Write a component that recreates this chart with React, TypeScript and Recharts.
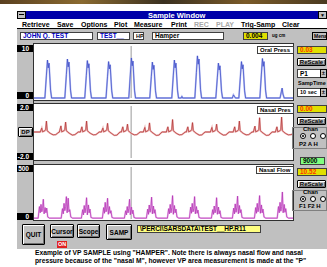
import React from 'react';
import { LineChart, Line, XAxis, YAxis, ReferenceLine } from 'recharts';

// time in seconds across the 10 sec window, values per channel
const oralPress: [number, number][] = [
  [0, 0], [0.42, 0], [0.48, 4.4], [0.52, 7.3], [0.55, 5.8], [0.58, 6.7], [0.64, 1.5], [0.68, 0],
  [1.19, 0], [1.25, 4.5], [1.29, 7.5], [1.32, 6.0], [1.35, 6.9], [1.41, 1.5], [1.45, 0],
  [1.96, 0], [2.02, 4.3], [2.06, 7.2], [2.09, 5.8], [2.12, 6.6], [2.18, 1.4], [2.22, 0],
  [2.78, 0], [2.84, 4.2], [2.88, 7.0], [2.91, 5.6], [2.94, 6.4], [3.0, 1.4], [3.04, 0],
  [3.66, 0], [3.72, 4.6], [3.76, 7.7], [3.79, 6.2], [3.82, 7.1], [3.88, 1.5], [3.92, 0],
  [4.47, 0], [4.53, 4.1], [4.57, 6.9], [4.6, 5.5], [4.63, 6.3], [4.69, 1.4], [4.73, 0],
  [5.32, 0], [5.38, 4.4], [5.42, 7.3], [5.45, 5.8], [5.48, 6.7], [5.54, 1.5], [5.58, 0],
  [5.68, 0], [5.71, 0.3], [5.74, 0],
  [6.21, 0], [6.27, 4.9], [6.31, 8.1], [6.34, 6.5], [6.37, 7.5], [6.43, 1.6], [6.47, 0],
  [7.02, 0], [7.08, 4.0], [7.12, 6.7], [7.15, 5.4], [7.18, 6.2], [7.24, 1.3], [7.28, 0],
  [7.66, 0], [7.7, 0.6], [7.74, 0.3], [7.78, 0],
  [7.91, 0], [7.97, 4.2], [8.01, 7.0], [8.04, 5.6], [8.07, 6.4], [8.13, 1.4], [8.17, 0],
  [8.72, 0], [8.78, 4.6], [8.82, 7.6], [8.85, 6.1], [8.88, 7.0], [8.94, 1.5], [8.98, 0],
  [9.5, 0], [9.55, 1.2], [9.58, 1.9], [9.61, 0.8], [9.66, 0], [10, 0],
];

const nasalPres: [number, number][] = [
  [0, 0], [0.24, 0], [0.3, 0.3], [0.33, 0.02], [0.41, 0.08], [0.45, 0.2], [0.48, 0.84], [0.51, 0.1], [0.56, 0], [0.64, -0.12], [0.74, -0.22], [0.84, -0.2], [0.92, -0.08], [0.97, 0],
  [0.98, 0], [1.04, 0.47], [1.07, 0.02], [1.15, 0.08], [1.19, 0.2], [1.22, 0.76], [1.25, 0.1], [1.3, 0], [1.38, -0.12], [1.48, -0.24], [1.58, -0.2], [1.66, -0.08], [1.71, 0],
  [1.79, 0], [1.85, 0.4], [1.88, 0.02], [1.96, 0.08], [2.0, 0.2], [2.03, 0.84], [2.06, 0.1], [2.11, 0], [2.19, -0.12], [2.29, -0.22], [2.39, -0.2], [2.47, -0.08], [2.52, 0],
  [2.6, 0], [2.66, 0.3], [2.69, 0.02], [2.77, 0.08], [2.81, 0.2], [2.84, 0.67], [2.87, 0.1], [2.92, 0], [3.0, -0.12], [3.1, -0.26], [3.2, -0.24], [3.28, -0.08], [3.33, 0],
  [3.37, 0], [3.43, 0.4], [3.46, 0.02], [3.54, 0.08], [3.58, 0.2], [3.61, 0.6], [3.64, 0.1], [3.69, 0], [3.77, -0.12], [3.87, -0.22], [3.97, -0.2], [4.05, -0.08], [4.1, 0],
  [4.22, 0], [4.28, 0.35], [4.31, 0.02], [4.39, 0.08], [4.43, 0.2], [4.46, 0.7], [4.49, 0.1], [4.54, 0], [4.62, -0.12], [4.72, -0.26], [4.82, -0.24], [4.9, -0.08], [4.95, 0],
  [5.11, 0], [5.17, 0.4], [5.2, 0.02], [5.28, 0.08], [5.32, 0.2], [5.35, 0.96], [5.38, 0.1], [5.43, 0], [5.51, -0.12], [5.61, -0.22], [5.71, -0.2], [5.79, -0.08], [5.84, 0],
  [5.88, 0], [5.94, 0.4], [5.97, 0.02], [6.05, 0.08], [6.09, 0.2], [6.12, 0.72], [6.15, 0.1], [6.2, 0], [6.28, -0.12], [6.38, -0.24], [6.48, -0.22], [6.56, -0.08], [6.61, 0],
  [6.81, 0], [6.87, 0.35], [6.9, 0.02], [6.98, 0.08], [7.02, 0.2], [7.05, 0.6], [7.08, 0.1], [7.13, 0], [7.21, -0.12], [7.31, -0.24], [7.41, -0.22], [7.49, -0.08], [7.54, 0],
  [7.69, 0], [7.75, 0.4], [7.78, 0.02], [7.86, 0.08], [7.9, 0.2], [7.93, 0.84], [7.96, 0.1], [8.01, 0], [8.09, -0.12], [8.19, -0.22], [8.29, -0.2], [8.37, -0.08], [8.42, 0],
  [8.47, 0], [8.53, 0.45], [8.56, 0.02], [8.64, 0.08], [8.68, 0.2], [8.71, 1.1], [8.74, 0.1], [8.79, 0], [8.87, -0.12], [8.97, -0.26], [9.07, -0.24], [9.15, -0.08], [9.2, 0],
  [9.32, 0], [9.38, 0.4], [9.41, 0.02], [9.49, 0.08], [9.53, 0.2], [9.56, 1.15], [9.59, 0.1], [9.64, 0], [9.72, -0.12], [9.82, -0.22], [9.92, -0.2], [10, -0.15],
];

const nasalFlow: [number, number][] = [
  [0, 8],
  [0.16, 8], [0.21, 120], [0.24, 60], [0.27, 140], [0.3, 70], [0.33, 100], [0.36, 190], [0.39, 50], [0.43, 110], [0.46, 60], [0.49, 105], [0.53, 20], [0.6, 8],
  [1.05, 8], [1.1, 100], [1.13, 50], [1.16, 150], [1.19, 80], [1.22, 120], [1.25, 215], [1.28, 60], [1.32, 200], [1.35, 70], [1.38, 90], [1.42, 20], [1.49, 8],
  [1.83, 8], [1.88, 90], [1.91, 40], [1.94, 130], [1.97, 60], [2.0, 110], [2.03, 205], [2.06, 40], [2.1, 135], [2.13, 60], [2.16, 95], [2.2, 15], [2.27, 8],
  [2.64, 8], [2.69, 110], [2.72, 55], [2.75, 160], [2.78, 70], [2.81, 95], [2.84, 200], [2.87, 45], [2.91, 120], [2.94, 55], [2.97, 80], [3.01, 15], [3.08, 8],
  [3.49, 8], [3.54, 80], [3.57, 40], [3.6, 120], [3.63, 60], [3.66, 100], [3.69, 190], [3.72, 40], [3.76, 115], [3.79, 50], [3.82, 85], [3.86, 15], [3.93, 8],
  [4.34, 8], [4.39, 95], [4.42, 45], [4.45, 135], [4.48, 65], [4.51, 105], [4.54, 210], [4.57, 50], [4.61, 125], [4.64, 55], [4.67, 90], [4.71, 15], [4.78, 8],
  [5.15, 8], [5.2, 100], [5.23, 50], [5.26, 140], [5.29, 60], [5.32, 110], [5.35, 225], [5.38, 45], [5.42, 130], [5.45, 60], [5.48, 95], [5.52, 20], [5.59, 8],
  [6.0, 8], [6.05, 115], [6.08, 55], [6.11, 150], [6.14, 70], [6.17, 100], [6.2, 215], [6.23, 50], [6.27, 120], [6.3, 55], [6.33, 85], [6.37, 15], [6.44, 8],
  [6.85, 8], [6.9, 90], [6.93, 45], [6.96, 125], [6.99, 60], [7.02, 95], [7.05, 205], [7.08, 45], [7.12, 115], [7.15, 50], [7.18, 80], [7.22, 15], [7.29, 8],
  [7.66, 8], [7.71, 105], [7.74, 50], [7.77, 145], [7.8, 65], [7.83, 110], [7.86, 220], [7.89, 50], [7.93, 130], [7.96, 60], [7.99, 90], [8.03, 15], [8.1, 8],
  [8.51, 8], [8.56, 110], [8.59, 55], [8.62, 150], [8.65, 70], [8.68, 115], [8.71, 225], [8.74, 55], [8.78, 135], [8.81, 60], [8.84, 95], [8.88, 20], [8.95, 8],
  [9.39, 8], [9.44, 120], [9.47, 60], [9.5, 160], [9.53, 75], [9.56, 120], [9.59, 260], [9.62, 60], [9.66, 140], [9.69, 65], [9.72, 100], [9.76, 20], [9.83, 8],
  [10, 8],
];

const oralTicks = [0, 1, 2, 3, 4, 5, 6, 7, 8, 9, 10];
const presTicks = [-2, -1.6, -1.2, -0.8, -0.4, 0, 0.4, 0.8, 1.2, 1.6, 2];
const flowTicks = [0, 50, 100, 150, 200, 250, 300, 350, 400, 450, 500];
const cursorT = 3.75;

const menuItems = ['Retrieve', 'Save', 'Options', 'Plot', 'Measure', 'Print', 'REC', 'PLAY', 'Trig-Samp', 'Clear'];
const menuX = [22, 57, 81, 114, 134, 171, 194, 216, 241, 282];

const FONT = '"Liberation Sans", Arial, sans-serif';
const GRAY = '#c0c0c0';

function Abs({ x, y, w, h, style, children }: any) {
  return (
    <div style={{ position: 'absolute', left: x, top: y, width: w, height: h, boxSizing: 'border-box', ...style }}>
      {children}
    </div>
  );
}

function Txt({ x, y, children, size = 7, color = '#000', style }: any) {
  return (
    <div style={{ position: 'absolute', left: x, top: y, fontSize: size, lineHeight: 1, fontWeight: 700, color, whiteSpace: 'nowrap', ...style }}>
      {children}
    </div>
  );
}

function Btn({ x, y, w, h, label, size = 6.5 }: any) {
  return (
    <Abs x={x} y={y} w={w} h={h} style={{ background: GRAY, border: '1px solid #000', borderRadius: 1, boxShadow: 'inset 1px 1px #fff, inset -1px -1px #707070', display: 'flex', alignItems: 'center', justifyContent: 'center', fontSize: size, fontWeight: 700 }}>
      {label}
    </Abs>
  );
}

function Field({ x, y, w, h, label, bg = '#fff', color = '#0000c0', size = 6.5 }: any) {
  return (
    <Abs x={x} y={y} w={w} h={h} style={{ background: bg, border: '1px solid #404040', fontSize: size, fontWeight: 700, color, paddingLeft: 2, lineHeight: `${h - 2}px`, whiteSpace: 'nowrap', overflow: 'hidden' }}>
      {label}
    </Abs>
  );
}

function ScaleLabel({ y, label }: any) {
  return (
    <Abs x={17} y={y} w={16} h={7} style={{ background: '#000', color: '#fff', fontSize: 6.5, fontWeight: 700, lineHeight: '7px', textAlign: 'right', paddingRight: 4 }}>
      {label}
    </Abs>
  );
}

function Radio({ x, y, on }: any) {
  return (
    <Abs x={x} y={y} w={6} h={6} style={{ borderRadius: 3, border: '1px solid #000', background: '#fff' }}>
      {on && <div style={{ position: 'absolute', left: 1, top: 1, width: 2, height: 2, borderRadius: 1, background: '#000' }} />}
    </Abs>
  );
}

function Spin({ x, y }: any) {
  return (
    <Abs x={x} y={y} w={7} h={9} style={{ background: GRAY, border: '1px solid #000', fontSize: 6, fontWeight: 700, textAlign: 'center', lineHeight: '7px' }}>±</Abs>
  );
}

function Trace({ top, data, domain, ticks, light, dark, tickColor }: any) {
  const rows = data.map(([t, v]: [number, number]) => ({ t, v }));
  return (
    <div style={{ position: 'absolute', left: 33, top }}>
      <LineChart width={260} height={56} data={rows} margin={{ top: 2, right: 0, bottom: 2, left: 1 }}>
        <XAxis type="number" dataKey="t" domain={[0, 10]} hide />
        <YAxis type="number" domain={domain} ticks={ticks} mirror width={0} tickSize={3}
          tickFormatter={() => ''} axisLine={{ stroke: '#208070' }} tickLine={{ stroke: tickColor }} />
        <ReferenceLine x={cursorT} stroke="#9a9a9a" />
        <Line type="linear" dataKey="v" stroke={light} strokeWidth={1.8} dot={false} isAnimationActive={false} />
        <Line type="linear" dataKey="v" stroke={dark} strokeWidth={0.7} dot={false} isAnimationActive={false} />
      </LineChart>
    </div>
  );
}

export default function App() {
  return (
    <div style={{ position: 'fixed', left: 0, top: 0, width: 327, height: 267, background: '#fff', fontFamily: FONT, overflow: 'hidden' }}>
      <Abs x={0} y={0} w={327} h={4} style={{ background: 'linear-gradient(90deg,#5a4020,#8a6a30,#3a3020,#7a5a28,#4a3a20)' }} />

      {/* window frame */}
      <Abs x={17} y={11} w={310} h={238} style={{ background: GRAY }} />
      <Abs x={17} y={11} w={310} h={8} style={{ background: '#0000a8' }} />
      <Abs x={17} y={11} w={9} h={8} style={{ background: GRAY, border: '1px solid #000' }}>
        <div style={{ position: 'absolute', left: 1, top: 2, width: 5, height: 1, background: '#000' }} />
      </Abs>
      <Abs x={318} y={11} w={9} h={8} style={{ background: GRAY, border: '1px solid #000', fontSize: 5, textAlign: 'center', lineHeight: '6px' }}>▼</Abs>
      <Txt x={148} y={12} size={7.5} color="#fff">Sample Window</Txt>
      <Abs x={17} y={19} w={310} h={10} style={{ background: '#fff', borderBottom: '1px solid #000' }} />
      {menuItems.map((m, i) => (
        <Txt key={m} x={menuX[i]} y={21} size={7} color={m === 'REC' || m === 'PLAY' ? '#a8a8a8' : '#000'}>{m}</Txt>
      ))}

      {/* header fields */}
      <Field x={20} y={32} w={73} h={8} label="JOHN Q. TEST" />
      <Field x={97} y={32} w={33} h={8} label="TEST__" />
      <Field x={133} y={32} w={11} h={8} label="HP" color="#000" size={5.5} />
      <Field x={152} y={32} w={72} h={8} label="Hamper" color="#000" />
      <Field x={243} y={32} w={25} h={8} label="0.004" bg="#e0e000" color="#000" />
      <Txt x={272} y={34} size={4.5}>ug cm</Txt>
      <Abs x={312} y={32} w={15} h={8} style={{ background: GRAY, border: '1px solid #000', fontSize: 5, fontWeight: 700, paddingLeft: 1, lineHeight: '6px' }}>Mena</Abs>

      {/* plot panels */}
      <Abs x={17} y={43} w={17} h={178} style={{ background: GRAY, borderRight: '1px solid #303030' }} />
      <Abs x={33} y={43} w={261} h={58} style={{ background: '#fff', border: '1px solid #303030' }} />
      <Abs x={33} y={103} w={261} h={58} style={{ background: '#fff', border: '1px solid #303030' }} />
      <Abs x={33} y={164} w={261} h={57} style={{ background: '#fff', border: '1px solid #303030' }} />
      <Trace top={44} data={oralPress} domain={[0, 10]} ticks={oralTicks} light="#b4bcf2" dark="#3848c4" tickColor="#a0b040" />
      <Trace top={104} data={nasalPres} domain={[-2, 2]} ticks={presTicks} light="#ecb4b4" dark="#b03030" tickColor="#c04040" />
      <Trace top={165} data={nasalFlow} domain={[0, 500]} ticks={flowTicks} light="#ecb4ec" dark="#b030b0" tickColor="#c040c0" />
      <ScaleLabel y={45} label="10" />
      <ScaleLabel y={92} label="0" />
      <ScaleLabel y={104} label="2.0" />
      <ScaleLabel y={153} label="-2.0" />
      <ScaleLabel y={165} label="500" />
      <ScaleLabel y={213} label="0" />
      <Btn x={18} y={127} w={15} h={10} label="DP" size={6} />
      <Field x={257} y={46} w={37} h={8} label="Oral Press" color="#000" size={6} />
      <Field x={257} y={106} w={37} h={8} label="Nasal Pres" color="#000" size={6} />
      <Field x={256} y={166} w={38} h={8} label="Nasal Flow" color="#000" size={6} />

      {/* right column */}
      <Field x={297} y={46} w={30} h={8} label="0.03" bg="#e0e000" color="#ff3000" />
      <Btn x={297} y={58} w={29} h={8} label="ReScale" size={6} />
      <Field x={297} y={69} w={30} h={9} label="P1" color="#000" />
      <Spin x={320} y={69} />
      <Txt x={298} y={81} size={5.5}>SampTime</Txt>
      <Field x={297} y={88} w={30} h={9} label="10 sec" color="#000" size={5.5} />
      <Spin x={320} y={88} />

      <Field x={297} y={105} w={30} h={8} label="0.00" bg="#e0e000" color="#ff3000" />
      <Btn x={297} y={117} w={29} h={8} label="ReScale" size={6} />
      <Abs x={292} y={127} w={35} h={22} style={{ border: '1px solid #808080' }} />
      <Txt x={303} y={126} size={6}>Chan</Txt>
      <Radio x={300} y={133} on />
      <Radio x={310} y={133} />
      <Radio x={320} y={133} />
      <Txt x={299} y={141} size={6}>P2  A  H</Txt>
      <Field x={300} y={157} w={25} h={8} label="9000" bg="#80ff80" color="#000" />

      <Field x={297} y={168} w={30} h={8} label="10.52" bg="#e0e000" color="#ff3000" />
      <Btn x={297} y={180} w={29} h={8} label="ReScale" size={6} />
      <Abs x={292} y={190} w={35} h={21} style={{ border: '1px solid #808080' }} />
      <Txt x={303} y={189} size={6}>Chan</Txt>
      <Radio x={300} y={196} on />
      <Radio x={310} y={196} />
      <Radio x={320} y={196} />
      <Txt x={299} y={203} size={6}>F1 F2 H</Txt>

      {/* bottom buttons */}
      <Btn x={22} y={224} w={23} h={21} label="QUIT" />
      <Btn x={50} y={224} w={24} h={14} label="Cursor" />
      <Abs x={57} y={241} w={10} h={7} style={{ background: '#e02020', color: '#fff', fontSize: 5.5, fontWeight: 700, textAlign: 'center', lineHeight: '7px' }}>ON</Abs>
      <Btn x={77} y={224} w={23} h={14} label="Scope" />
      <Btn x={106} y={224} w={26} h={16} label="SAMP" />
      <Field x={137} y={225} w={124} h={8} label="\PERCI\SARSDATA\TEST__HP.R11" bg="#ffff80" color="#000" />

      <Txt x={35} y={250} size={6.7}>Example of VP SAMPLE using "HAMPER".  Note there is always nasal flow  and nasal</Txt>
      <Txt x={35} y={258} size={6.7}>pressure because of the "nasal M", however VP area measurement is made at the "P"</Txt>
    </div>
  );
}
